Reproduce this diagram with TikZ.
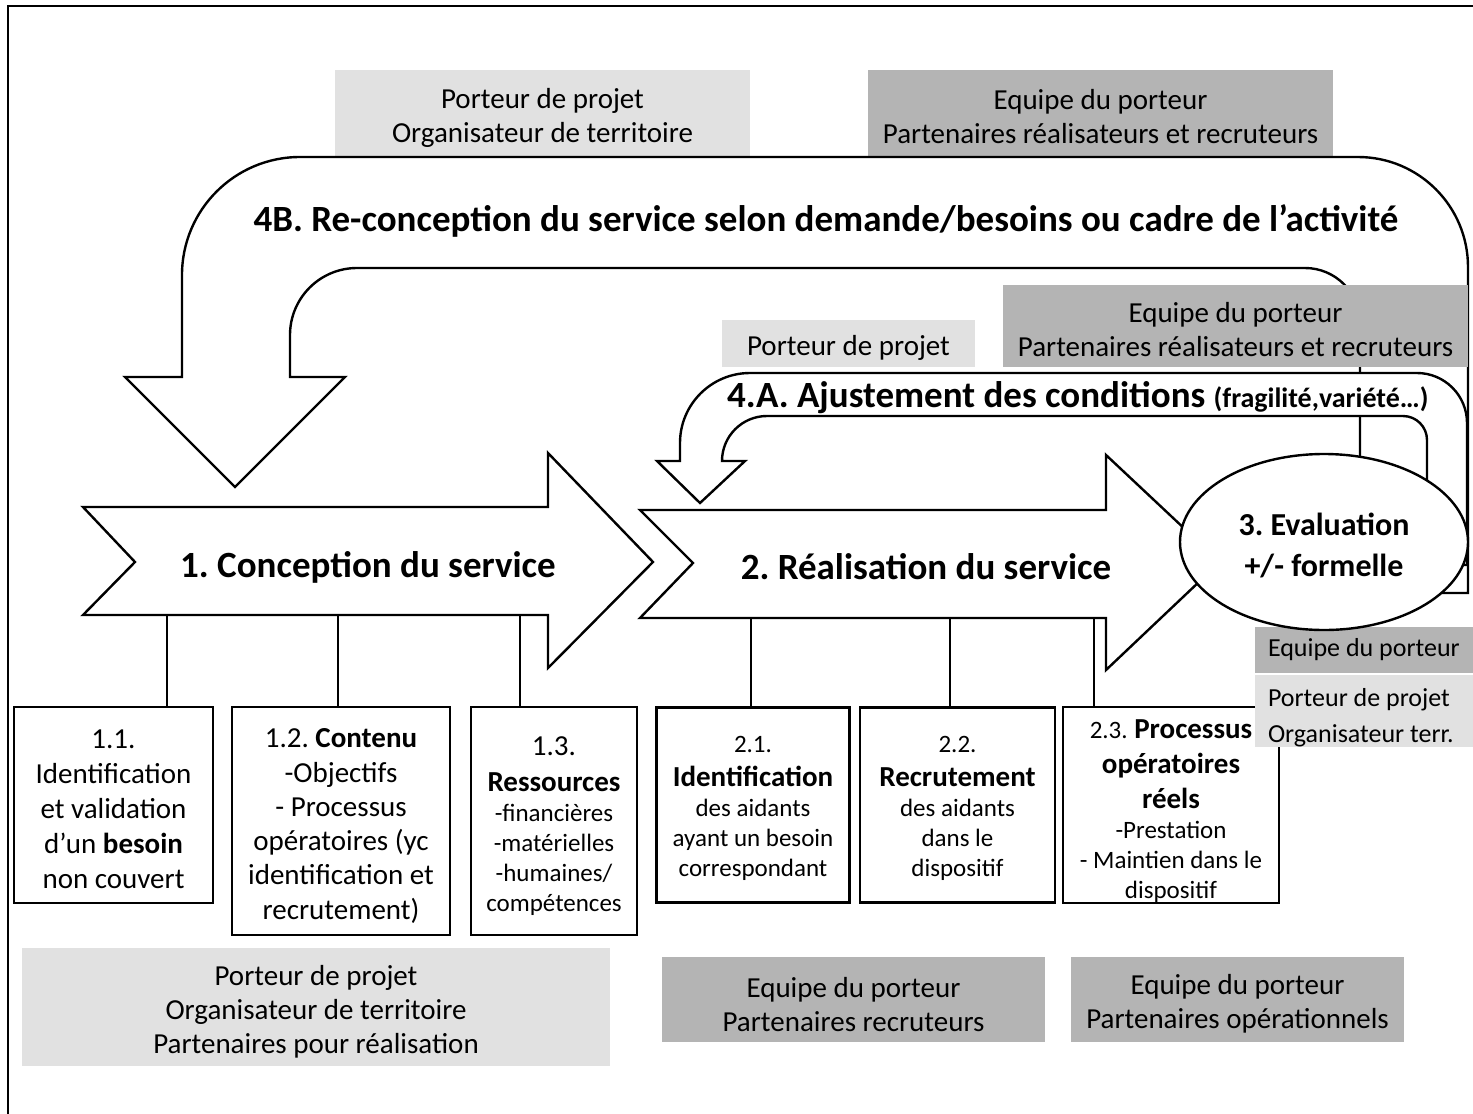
\documentclass[tikz,border=0pt]{standalone}
\usepackage{fontspec}
\setmainfont{Carlito}
\usepackage{tikz}
\usetikzlibrary{shapes.geometric}
\definecolor{tagLight}{RGB}{225,225,225}
\definecolor{tagDark}{RGB}{180,180,180}
\newcommand{\tagsize}{\fontsize{29}{34}\selectfont}
\newcommand{\boxsize}{\fontsize{29}{35}\selectfont}
\newcommand{\smallsize}{\fontsize{25}{30}\selectfont}
% strut on the first line, to lower a text block inside its box
\newcommand{\lift}[1]{\rule{0pt}{#1pt}}
\frenchspacing

\begin{document}
\begin{tikzpicture}[x=1pt,y=-1pt,
	outline/.style={draw=black,line width=2.4pt,fill=white,line join=miter},
	stagebox/.style={draw=black,line width=2.4pt,fill=white,align=center,inner sep=0pt,font=\boxsize},
	lighttag/.style={fill=tagLight,align=center,inner sep=0pt,font=\tagsize},
	darktag/.style={fill=tagDark,align=center,inner sep=0pt,font=\tagsize},
	sidetag/.style={minimum width=245pt,text width=219pt,align=flush left,inner xsep=13pt,font=\fontsize{26}{36}\selectfont},
	stagetitle/.style={anchor=base,font=\fontsize{37}{42}\selectfont\bfseries}]
	\useasboundingbox (0,0) rectangle (1473,1114);
	\clip (0,0) rectangle (1473,1114);
	\draw[line width=2.4pt] (8,1120) -- (8,6) -- (1480,6);
	% roles of the loop 4B
	\node[lighttag,minimum width=415pt,minimum height=87pt] (roleA) at (542.5,113.5) {\lift{29}Porteur de projet\\Organisateur de territoire};
	\node[darktag,minimum width=465pt,minimum height=87pt] (roleB) at (1100.5,113.5) {\lift{27}Equipe du porteur\\Partenaires réalisateurs et recruteurs};
	% loop 4B
	\draw[outline] (1468,593) -- (1468,267) arc[start angle=0,end angle=-90,radius=110] -- (300,157) arc[start angle=-90,end angle=-180,radius=118] -- (182,377) -- (125,377) -- (235,487) -- (345,377) -- (290,377) -- (290,335) arc[start angle=180,end angle=270,radius=67] -- (1305,268) arc[start angle=270,end angle=360,radius=55] -- (1360,593) -- cycle;
	\node[anchor=base,font=\fontsize{37}{42}\selectfont\bfseries] (loopB) at (826,231) {4B. Re-conception du service selon demande/besoins ou cadre de l’activité};
	% loop 4A
	\draw[outline] (1467,565) -- (1467,423) arc[start angle=0,end angle=-90,radius=50] -- (750,373) arc[start angle=-90,end angle=-180,radius=70] -- (680,461) -- (657,461) -- (700,503) -- (745,461) -- (722,461) arc[start angle=180,end angle=270,radius=45] -- (1403,416) arc[start angle=270,end angle=360,radius=24] -- (1427,565) -- cycle;
	\node[anchor=base west,inner sep=0pt] (loopA) at (727,407) {\fontsize{37}{42}\selectfont\bfseries 4.A. Ajustement des conditions {\fontsize{28}{30}\selectfont(fragilité,variété…)}};
	\node[lighttag,minimum width=253pt,minimum height=47pt] (roleD) at (848.5,343.5) {\lift{29}Porteur de projet};
	\node[darktag,minimum width=465pt,minimum height=82pt] (roleC) at (1235.5,326) {\lift{28}Equipe du porteur\\Partenaires réalisateurs et recruteurs};
	% stages 1 and 2
	\draw[outline] (83,507) -- (548,507) -- (548,453) -- (653,562) -- (548,668) -- (548,615) -- (83,615) -- (135,562) -- cycle;
	\node[stagetitle] (stage1) at (368,577) {1. Conception du service};
	\draw[outline] (640,510) -- (1106,510) -- (1106,455) -- (1220,562) -- (1106,670) -- (1106,618) -- (640,618) -- (693,563) -- cycle;
	\node[stagetitle] (stage2) at (926,579) {2. Réalisation du service};
	% evaluation
	\node[darktag,sidetag,minimum height=46pt] (roleE) at (1377.5,650) {Equipe du porteur};
	\node[ellipse,draw=black,line width=2.4pt,fill=white,inner sep=0pt,minimum width=288pt,minimum height=176pt,align=center,font=\fontsize{32}{41}\selectfont\bfseries] (evalnode) at (1324,542) {\lift{28.5}3. Evaluation\\+/- formelle};
	% sub-steps
	\coordinate (t11) at (167,615);
	\coordinate (t12) at (338,615);
	\coordinate (t13) at (520,615);
	\coordinate (t21) at (751,618);
	\coordinate (t22) at (950,618);
	\coordinate (t23) at (1094,618);
	\node[stagebox,minimum width=199pt,minimum height=196pt] (b11) at (113.5,805) {\lift{27}1.1.\\Identification\\et validation\\d’un \textbf{besoin}\\non couvert};
	\node[stagebox,minimum width=218pt,minimum height=228pt] (b12) at (341,821) {\lift{29}1.2. \textbf{Contenu}\\[-0.7pt]-Objectifs\\[-0.7pt]- Processus\\[-0.7pt]opératoires (yc\\[-0.7pt]identification et\\[-0.7pt]recrutement)};
	\node[stagebox,minimum width=166pt,minimum height=228pt,font=\smallsize] (b13) at (554,821) {{\boxsize\lift{30}1.3.}\\[6pt]{\boxsize\bfseries Ressources}\\-financières\\-matérielles\\-humaines/\\compétences};
	\node[stagebox,minimum width=193pt,minimum height=195pt,font=\smallsize] (b21) at (753,805) {\lift{23}2.1.\\[4pt]{\boxsize\bfseries Identification}\\des aidants\\ayant un besoin\\correspondant};
	\node[stagebox,minimum width=195pt,minimum height=195pt,font=\smallsize] (b22) at (957.5,805) {\lift{23}2.2.\\[4pt]{\boxsize\bfseries Recrutement}\\des aidants\\dans le\\dispositif};
	\node[stagebox,minimum width=216pt,minimum height=195pt] (b23) at (1171,805) {\lift{32}{\smallsize 2.3.} \textbf{Processus}\\\textbf{opératoires}\\\textbf{réels}\\[-5pt]{\smallsize -Prestation}\\[-5pt]{\smallsize - Maintien dans le}\\[-5pt]{\smallsize dispositif}};
	\foreach \s in {11,12,13,21,22,23}
		\draw[line width=2.4pt] (t\s) -- (t\s |- b\s.north);
	\node[lighttag,sidetag,minimum height=68pt] (roleF) at (1377.5,711) {\lift{32}Porteur de projet\\Organisateur terr.};
	% roles below
	\node[lighttag,minimum width=588pt,minimum height=118pt] (roleG) at (316,1007) {\lift{30.5}Porteur de projet\\Organisateur de territoire\\Partenaires pour réalisation};
	\node[darktag,minimum width=383pt,minimum height=85pt] (roleH) at (853.5,999.5) {\lift{29.5}Equipe du porteur\\Partenaires recruteurs};
	\node[darktag,minimum width=333pt,minimum height=85pt] (roleI) at (1237.5,999.5) {\lift{29.5}Equipe du porteur\\Partenaires opérationnels};
\end{tikzpicture}
\end{document}
